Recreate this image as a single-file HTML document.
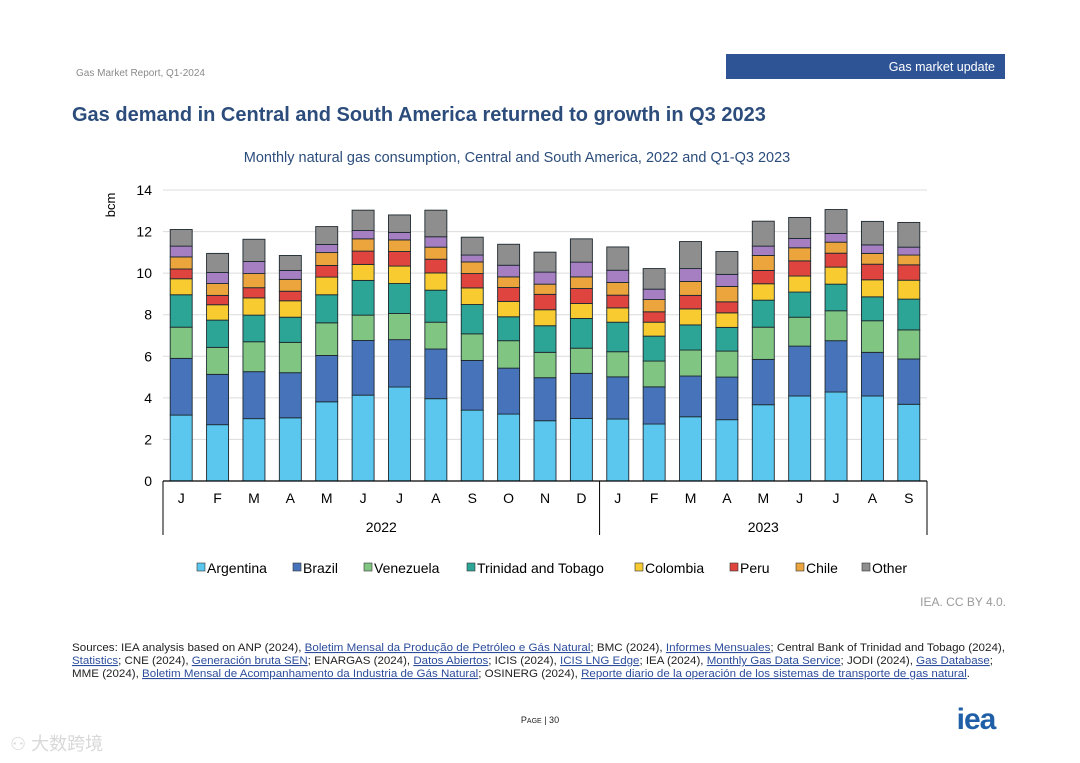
<!DOCTYPE html>
<html><head><meta charset="utf-8"><style>
body{margin:0;background:#fff;width:1080px;height:763px;overflow:hidden;font-family:"Liberation Sans","Noto Sans CJK SC",sans-serif}
svg{display:block}
</style></head><body>
<svg id="chart" width="1080" height="763" viewBox="0 0 1080 763">
<text x="76" y="76" font-size="10" fill="#8a8a8a">Gas Market Report, Q1-2024</text>
<rect x="726" y="54" width="279" height="25" fill="#2f5496"/>
<text x="995" y="71" font-size="12.5" fill="#fff" text-anchor="end">Gas market update</text>
<text x="72" y="121" font-size="20" font-weight="bold" fill="#2c4d7c">Gas demand in Central and South America returned to growth in Q3 2023</text>
<text x="517" y="162" font-size="14.5" fill="#2c4d7c" text-anchor="middle">Monthly natural gas consumption, Central and South America, 2022 and Q1-Q3 2023</text>
<text transform="translate(115,205) rotate(-90)" font-size="13" fill="#000" text-anchor="middle">bcm</text>
<g id="grid"></g><g id="bars"></g><g id="axis"></g><g id="legend"></g>
<text x="1006" y="606" font-size="12" fill="#9a9a9a" text-anchor="end">IEA. CC BY 4.0.</text>
<g font-size="11" fill="#222">
<text x="72" y="651" textLength="933" lengthAdjust="spacingAndGlyphs">Sources: IEA analysis based on ANP (2024), <tspan fill="#2c4d9c" text-decoration="underline">Boletim Mensal da Produção de Petróleo e Gás Natural</tspan>; BMC (2024), <tspan fill="#2c4d9c" text-decoration="underline">Informes Mensuales</tspan>; Central Bank of Trinidad and Tobago (2024),</text>
<text x="72" y="664" textLength="921" lengthAdjust="spacingAndGlyphs"><tspan fill="#2c4d9c" text-decoration="underline">Statistics</tspan>; CNE (2024), <tspan fill="#2c4d9c" text-decoration="underline">Generación bruta SEN</tspan>; ENARGAS (2024), <tspan fill="#2c4d9c" text-decoration="underline">Datos Abiertos</tspan>; ICIS (2024), <tspan fill="#2c4d9c" text-decoration="underline">ICIS LNG Edge</tspan>; IEA (2024), <tspan fill="#2c4d9c" text-decoration="underline">Monthly Gas Data Service</tspan>; JODI (2024), <tspan fill="#2c4d9c" text-decoration="underline">Gas Database</tspan>;</text>
<text x="72" y="677" textLength="898" lengthAdjust="spacingAndGlyphs">MME (2024), <tspan fill="#2c4d9c" text-decoration="underline">Boletim Mensal de Acompanhamento da Industria de Gás Natural</tspan>; OSINERG (2024), <tspan fill="#2c4d9c" text-decoration="underline">Reporte diario de la operación de los sistemas de transporte de gas natural</tspan>.</text>
</g>
<text x="540" y="723" font-size="9" fill="#222" text-anchor="middle">P<tspan font-size="7">AGE</tspan> | 30</text>
<text x="976" y="729" font-size="30" font-weight="bold" fill="#1f5fa8" text-anchor="middle" letter-spacing="-1">iea</text>
<text x="10" y="750" font-size="18" fill="#d8d8d8">⚇ 大数跨境</text>
</svg>
<script>
const months=["J","F","M","A","M","J","J","A","S","O","N","D","J","F","M","A","M","J","J","A","S"];
const years=["2022","2023"];
const yTicks=[0,2,4,6,8,10,12,14];
const seriesNames=["Argentina","Brazil","Venezuela","Trinidad and Tobago","Colombia","Peru","Chile","Unlabelled","Other"];
const argentina=[3.17,2.71,3.0,3.04,3.81,4.13,4.52,3.96,3.41,3.22,2.9,3.01,2.98,2.74,3.09,2.95,3.67,4.09,4.28,4.09,3.69];
const brazil=[2.73,2.42,2.26,2.17,2.23,2.63,2.28,2.39,2.39,2.21,2.07,2.17,2.03,1.79,1.96,2.05,2.18,2.40,2.47,2.10,2.18];
const venezuela=[1.5,1.3,1.44,1.46,1.57,1.22,1.26,1.29,1.28,1.32,1.22,1.21,1.21,1.24,1.25,1.25,1.55,1.39,1.44,1.52,1.40];
const trinidad=[1.56,1.31,1.28,1.21,1.35,1.67,1.44,1.54,1.41,1.15,1.28,1.43,1.42,1.20,1.21,1.14,1.30,1.21,1.28,1.15,1.48];
const colombia=[0.77,0.74,0.83,0.79,0.85,0.77,0.84,0.83,0.80,0.74,0.77,0.72,0.69,0.67,0.77,0.70,0.79,0.77,0.82,0.82,0.91];
const peru=[0.47,0.45,0.49,0.46,0.56,0.64,0.70,0.66,0.69,0.67,0.74,0.72,0.61,0.50,0.65,0.53,0.64,0.73,0.67,0.75,0.74];
const chile=[0.58,0.57,0.68,0.57,0.62,0.59,0.56,0.58,0.56,0.51,0.49,0.56,0.61,0.59,0.67,0.74,0.72,0.63,0.53,0.52,0.47];
const unlabelled=[0.52,0.53,0.58,0.43,0.39,0.40,0.36,0.50,0.33,0.56,0.58,0.71,0.59,0.50,0.62,0.58,0.45,0.45,0.42,0.41,0.38];
const other=[0.8,0.92,1.07,0.72,0.86,0.98,0.84,1.28,0.86,1.01,0.96,1.12,1.12,0.99,1.30,1.10,1.20,1.01,1.15,1.13,1.19];
const series=[argentina,brazil,venezuela,trinidad,colombia,peru,chile,unlabelled,other];
const colors=["#5bc6ee","#4673ba","#80c682","#2ca596","#f8cc30","#e0443e","#eca43c","#a57fc2","#8e8e8e"];
const NS="http://www.w3.org/2000/svg";
const X0=163,X1=927,Y0=481,YMAX=14,YTOP=190;
const step=(X1-X0)/months.length;
const xC=i=>X0+step*(i+0.5);
const yS=v=>Y0-(v/YMAX)*(Y0-YTOP);
function mk(tag,attrs,parent){const e=document.createElementNS(NS,tag);for(const k in attrs)e.setAttribute(k,attrs[k]);parent.appendChild(e);return e;}
const grid=document.getElementById('grid'),bars=document.getElementById('bars'),axis=document.getElementById('axis'),legend=document.getElementById('legend');
yTicks.forEach(t=>{
 if(t>0){const l=mk('line',{x1:X0,x2:X1,y1:yS(t),y2:yS(t),stroke:'#dcdcdc','stroke-width':1},grid);
 
 }
 const tx=mk('text',{x:152,y:yS(t)+5,'font-size':14,'text-anchor':'end',fill:'#000'},axis);tx.textContent=t;
 
 
});
const bw=22;
months.forEach((m,i)=>{
 let cum=0;
 series.forEach((s,k)=>{
  const v=s[i];const yt=yS(cum+v),yb=yS(cum);cum+=v;
  const r=mk('rect',{x:xC(i)-bw/2,y:yt,width:bw,height:yb-yt,fill:colors[k],stroke:'#1e2a30','stroke-width':0.9},bars);
  
  
 });
 const t=mk('text',{x:xC(i),y:503,'font-size':14,'text-anchor':'middle',fill:'#000'},axis);t.textContent=m;
 
 
});
const xa=mk('line',{x1:X0,x2:X1,y1:Y0,y2:Y0,stroke:'#000','stroke-width':1.2},axis);


[0,12,months.length].forEach(i=>{const x=X0+step*i;const l=mk('line',{x1:x,x2:x,y1:Y0,y2:535,stroke:'#000','stroke-width':1},axis);
 
 });
years.forEach((y,j)=>{const a=j==0?0:12,b=j==0?12:months.length;const t=mk('text',{x:(X0+step*a+X0+step*b)/2,y:532,'font-size':14,'text-anchor':'middle',fill:'#000'},axis);t.textContent=y;
 
 });
const legX=[197,293,364,467,635,730,796,862];
const legIdx=[0,1,2,3,4,5,6,8];
legIdx.forEach((k,j)=>{
 const g=mk('g',{},legend);
 
 
 mk('rect',{x:legX[j],y:563,width:8,height:8,fill:colors[k],stroke:'#333','stroke-width':0.6},g);
 const t=mk('text',{x:legX[j]+10,y:573,'font-size':14,fill:'#000'},g);t.textContent=seriesNames[k];
});
</script>
</body></html>
